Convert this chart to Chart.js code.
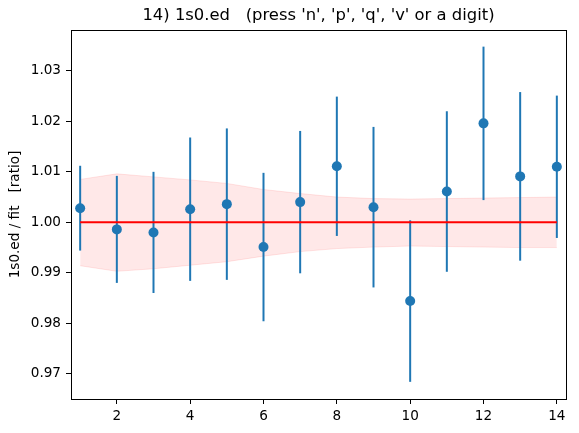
<!DOCTYPE html>
<html>
<head>
<meta charset="utf-8">
<script src="https://cdn.jsdelivr.net/npm/chart.js@4/dist/chart.umd.min.js"></script>
<style>
  body { margin: 0; background: #fff; }
  canvas { display: block; }
</style>
</head>
<body>
<canvas id="ratio_chart" width="579" height="433"></canvas>
<script>
// data
const xs = [1, 2, 3, 4, 5, 6, 7, 8, 9, 10, 11, 12, 13, 14];
const ratio = [1.0028, 0.9986, 0.9980, 1.0026, 1.0036, 0.9951, 1.0040, 1.0111, 1.0030, 0.9844, 1.0061, 1.0196, 1.0091, 1.0110];
const ratio_err = [0.0084, 0.0106, 0.0120, 0.0142, 0.0150, 0.0147, 0.0141, 0.0138, 0.0159, 0.0160, 0.0159, 0.0152, 0.0167, 0.0141];
const band_hi = [1.0085, 1.0096, 1.0090, 1.0084, 1.0077, 1.0065, 1.0057, 1.0050, 1.0047, 1.0046, 1.0047, 1.0048, 1.0049, 1.0050];
const band_lo = [0.9914, 0.9903, 0.9908, 0.9915, 0.9922, 0.9933, 0.9942, 0.9948, 0.9951, 0.9953, 0.9952, 0.9951, 0.9950, 0.9950];
const fit_line = [1.0, 1.0];
const x_ticks = [2, 4, 6, 8, 10, 12, 14];
const y_ticks = [0.97, 0.98, 0.99, 1.00, 1.01, 1.02, 1.03];

const font_family = "'DejaVu Sans', sans-serif";
const blue = '#1f77b4';

function toPoints(values) {
  return values.map((v, i) => ({ x: xs[i], y: v }));
}

// vertical error bars, drawn just before the markers
const errorBars = {
  id: 'errorBars',
  beforeDatasetDraw(chart, args) {
    if (args.index !== 1) return;
    const ctx = chart.ctx;
    const xScale = chart.scales.x;
    const yScale = chart.scales.y;
    ctx.save();
    ctx.strokeStyle = blue;
    ctx.lineWidth = 2;
    for (let i = 0; i < xs.length; i++) {
      let px = xScale.getPixelForValue(xs[i]);
      ctx.beginPath();
      ctx.moveTo(px, yScale.getPixelForValue(ratio[i] - ratio_err[i]));
      ctx.lineTo(px, yScale.getPixelForValue(ratio[i] + ratio_err[i]));
      ctx.stroke();
    }
    ctx.restore();
  }
};

// box round the plot area
const frameBox = {
  id: 'frameBox',
  afterDraw(chart) {
    const a = chart.chartArea;
    const ctx = chart.ctx;
    ctx.save();
    ctx.strokeStyle = '#000';
    ctx.lineWidth = 1;
    ctx.strokeRect(Math.round(a.left) + 0.5, Math.round(a.top) + 0.5,
      Math.round(a.right - a.left), Math.round(a.bottom - a.top));
    ctx.restore();
  }
};

let chart_setup = {
  type: 'line',
  data: {
    datasets: [
      {
        // fit line
        data: [{ x: xs[0], y: fit_line[0] }, { x: xs[xs.length - 1], y: fit_line[1] }],
        borderColor: '#ff0000',
        borderWidth: 2,
        pointRadius: 0,
        fill: false,
        order: 0
      },
      {
        data: toPoints(ratio),
        showLine: false,
        pointRadius: 5,
        pointBackgroundColor: blue,
        pointBorderWidth: 0,
        order: 1
      },
      {
        data: toPoints(band_lo),
        borderColor: 'rgba(255,0,0,0.1)',
        borderWidth: 1,
        pointRadius: 0,
        tension: 0,
        fill: false,
        order: 3
      },
      {
        data: toPoints(band_hi),
        borderColor: 'rgba(255,0,0,0.1)',
        backgroundColor: 'rgba(255,0,0,0.09)',
        borderWidth: 1,
        pointRadius: 0,
        tension: 0,
        fill: '-1',
        order: 2
      }
    ]
  },
  options: {
    responsive: false,
    animation: false,
    layout: {
      padding: { left: 0, right: 13, top: 0, bottom: 0 }
    },
    plugins: {
      legend: { display: false },
      tooltip: { enabled: false },
      filler: { drawTime: 'beforeDatasetsDraw' },
      title: {
        display: true,
        fullSize: false,
        text: "14) 1s0.ed   (press 'n', 'p', 'q', 'v' or a digit)",
        color: '#000',
        font: { family: font_family, size: 16.4, weight: 'normal', lineHeight: 1.2 },
        padding: { top: 6, bottom: 4.3 }
      }
    },
    scales: {
      x: {
        type: 'linear',
        min: 0.75,
        max: 14.25,
        afterBuildTicks(scale) {
          scale.ticks = x_ticks.map(v => ({ value: v }));
        },
        afterFit(scale) {
          scale.height = 34;
        },
        border: { display: false },
        grid: {
          drawOnChartArea: false,
          drawTicks: true,
          tickLength: 5,
          color: '#000'
        },
        ticks: {
          color: '#000',
          padding: 4,
          maxRotation: 0,
          font: { family: font_family, size: 13.6 },
          callback: v => String(v)
        }
      },
      y: {
        type: 'linear',
        min: 0.965,
        max: 1.0381,
        afterBuildTicks(scale) {
          scale.ticks = y_ticks.map(v => ({ value: v }));
        },
        afterFit(scale) {
          scale.width = 71;
        },
        border: { display: false },
        grid: {
          drawOnChartArea: false,
          drawTicks: true,
          tickLength: 5,
          color: '#000'
        },
        ticks: {
          color: '#000',
          padding: 5,
          font: { family: font_family, size: 13.6 },
          callback: v => Number(v).toFixed(2)
        },
        title: {
          display: true,
          text: '1s0.ed / fit   [ratio]',
          color: '#000',
          font: { family: font_family, size: 13.6 },
          padding: { top: 7, bottom: 0 }
        }
      }
    }
  },
  plugins: [errorBars, frameBox]
};

const ctx = document.getElementById('ratio_chart');
new Chart(ctx, chart_setup);
</script>
</body>
</html>
